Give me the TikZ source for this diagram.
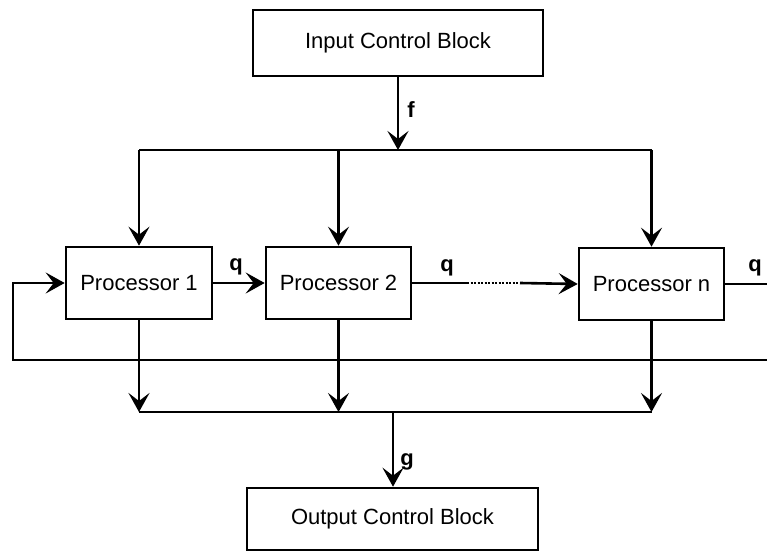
\documentclass[tikz,border=0pt]{standalone}
\usepackage{fontspec}
\setmainfont{Liberation Sans}
\usetikzlibrary{arrows.meta}
\begin{document}
\begin{tikzpicture}[x=1pt,y=-1pt,
  line width=2.6pt,
  blk/.style={draw, line width=2.6pt, inner sep=0pt, font=\fontsize{22}{24}\selectfont},
  arr/.style={-{Stealth[length=19pt,width=21pt,inset=8pt]}},
  lbl/.style={font=\fontsize{22}{24}\selectfont\bfseries, inner sep=0pt}]
\useasboundingbox (0,0) rectangle (767,553);
% blocks
\node[blk, minimum width=290pt, minimum height=66pt] (in) at (398,43) {Input Control Block};
\node[blk, minimum width=146pt, minimum height=72pt] (p1) at (139,283) {Processor 1};
\node[blk, minimum width=145pt, minimum height=72pt] (p2) at (338.5,283) {Processor 2};
\node[blk, minimum width=145pt, minimum height=72pt] (pn) at (651.5,284) {Processor n};
\node[blk, minimum width=291pt, minimum height=62pt] (out) at (392.5,519) {Output Control Block};
% junction coordinates
\coordinate (fj) at (398,150);
\coordinate (cj) at (393,412);
\coordinate (d1) at (467,283);
\coordinate (d2) at (520,283);
\coordinate (qr) at (767,284);
\coordinate (fbR) at (767,360);
\coordinate (fbL) at (13,360);
% input distribution
\draw[arr] (in.south) -- (fj);
\draw (p1.north |- fj) -- (pn.north |- fj);
\draw[arr] (p1.north |- fj) -- (p1.north);
\draw[arr] (p2.north |- fj) -- (p2.north);
\draw[arr] (pn.north |- fj) -- (pn.north);
% chain
\draw[arr] (p1.east) -- (p2.west);
\draw (p2.east) -- (d1);
\draw[line width=2pt, dash pattern=on 2pt off 1.5pt] (d1) -- (d2);
\draw[arr] (d2) -- (pn.west);
\draw (pn.east) -- (qr);
% feedback
\draw[arr] (fbR) -- (fbL) |- (p1.west);
% output collection
\draw[arr] (p1.south) -- (p1.south |- cj);
\draw[arr] (p2.south) -- (p2.south |- cj);
\draw[arr] (pn.south) -- (pn.south |- cj);
\draw (p1.south |- cj) -- (pn.south |- cj);
\draw[arr] (cj) -- (cj |- out.north);
% labels
\node[lbl] (lf) at (411,110) {f};
\node[lbl] (lq1) at (236,267) {q};
\node[lbl] (lq2) at (447,268) {q};
\node[lbl] (lq3) at (755,268) {q};
\node[lbl] (lg) at (407,462) {g};
\end{tikzpicture}
\end{document}
